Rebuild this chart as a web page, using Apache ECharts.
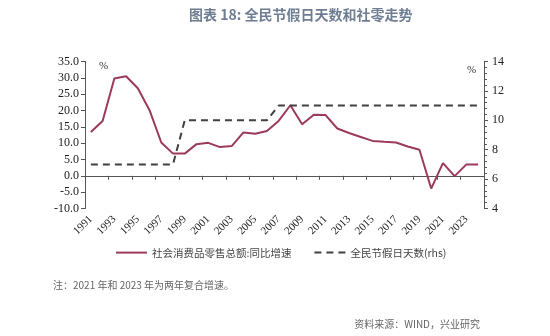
<!DOCTYPE html>
<html>
<head>
<meta charset="utf-8">
<script src="https://cdn.jsdelivr.net/npm/echarts@6/dist/echarts.min.js"></script>
<style>
html,body{margin:0;padding:0;background:#fff;}
#c{width:550px;height:336px;}
</style>
</head>
<body>
<div id="c"></div>
<script>
const years = ['1991','1992','1993','1994','1995','1996','1997','1998','1999','2000','2001','2002','2003','2004','2005','2006','2007','2008','2009','2010','2011','2012','2013','2014','2015','2016','2017','2018','2019','2020','2021','2022','2023','2024'];
const retailGrowth = [13.4,16.8,29.8,30.5,26.8,20.1,10.2,6.8,6.8,9.7,10.1,8.8,9.1,13.3,12.9,13.7,16.8,21.6,15.8,18.7,18.6,14.5,13.1,11.9,10.7,10.4,10.2,9.0,8.0,-3.9,3.9,-0.1,3.5,3.5];
const holidayDays = [7,7,7,7,7,7,7,7,10,10,10,10,10,10,10,10,11,11,11,11,11,11,11,11,11,11,11,11,11,11,11,11,11,11];
const leftTicks = {min:-10, max:35, interval:5};
const rightTicks = {min:4, max:14, interval:2};
const seriesNames = ['社会消费品零售总额:同比增速','全民节假日天数(rhs)'];

const chart = echarts.init(document.getElementById('c'), null, {renderer:'canvas'});
const serif = '"Liberation Serif","DejaVu Serif",serif';
const cjk = '"Noto Sans CJK SC","Noto Sans",sans-serif';
chart.setOption({
  animation:false,
  backgroundColor:'#ffffff',
  grid:{left:85, right:66, top:61.5, bottom:127.5, containLabel:false},
  title:{
    text:'图表 18: 全民节假日天数和社零走势',
    left:184, top:3,
    textStyle:{fontFamily:cjk, fontSize:14, fontWeight:'bold', color:'#6f7d93'}
  },
  legend:{
    left:110, top:242,
    itemWidth:31, itemHeight:14, itemGap:22,
    itemStyle:{opacity:0},
    textStyle:{fontFamily:cjk, fontSize:10.5, color:'#444'},
    data:seriesNames
  },
  xAxis:[
    {
      type:'category', data:years, boundaryGap:true, position:'bottom',
      axisLine:{show:false, onZero:false},
      axisTick:{show:false},
      axisLabel:{interval:1, rotate:45, margin:9, fontFamily:serif, fontSize:11, color:'#222'},
      splitLine:{show:false}
    },
    {
      type:'category', data:years, boundaryGap:true, position:'bottom',
      axisLine:{show:true, onZero:true, onZeroAxisIndex:0, lineStyle:{color:'#555', width:1}},
      axisTick:{show:true, interval:1, length:4, lineStyle:{color:'#555'}},
      axisLabel:{show:false},
      splitLine:{show:false}
    }
  ],
  yAxis:[
    {
      type:'value', min:leftTicks.min, max:leftTicks.max, interval:leftTicks.interval,
      axisLine:{show:true, onZero:false, lineStyle:{color:'#555'}},
      axisTick:{show:true, length:4, lineStyle:{color:'#555'}},
      axisLabel:{formatter:v=>v.toFixed(1), fontFamily:serif, fontSize:12, color:'#222', margin:6},
      splitLine:{show:false}
    },
    {
      type:'value', min:rightTicks.min, max:rightTicks.max, interval:rightTicks.interval,
      position:'right',
      axisLine:{show:true, onZero:false, lineStyle:{color:'#555'}},
      axisTick:{show:true, length:4, lineStyle:{color:'#555'}},
      minorTick:{show:true, splitNumber:5, length:3, lineStyle:{color:'#555'}},
      axisLabel:{fontFamily:serif, fontSize:12, color:'#222', margin:8},
      splitLine:{show:false}
    }
  ],
  graphic:[
    {type:'text', left:99, top:61, style:{text:'%', font:'11px '+serif, fill:'#333'}},
    {type:'text', left:467, top:65, style:{text:'%', font:'11px '+serif, fill:'#333'}},
    {type:'text', left:53, top:280, style:{text:'注：2021 年和 2023 年为两年复合增速。', font:'10px '+cjk, fill:'#666'}},
    {type:'text', right:70, top:319, style:{text:'资料来源：WIND，兴业研究', font:'10px '+cjk, fill:'#666'}}
  ],
  series:[
    {
      name:seriesNames[0], type:'line', data:retailGrowth, xAxisIndex:0, yAxisIndex:0,
      symbol:'none', lineStyle:{color:'#9b3a5b', width:2}, itemStyle:{color:'#9b3a5b'}
    },
    {
      name:seriesNames[1], type:'line', data:holidayDays, xAxisIndex:0, yAxisIndex:1,
      symbol:'none', lineStyle:{color:'#404040', width:2, type:[7,5]}, itemStyle:{color:'#404040'}
    }
  ]
});
</script>
</body>
</html>
